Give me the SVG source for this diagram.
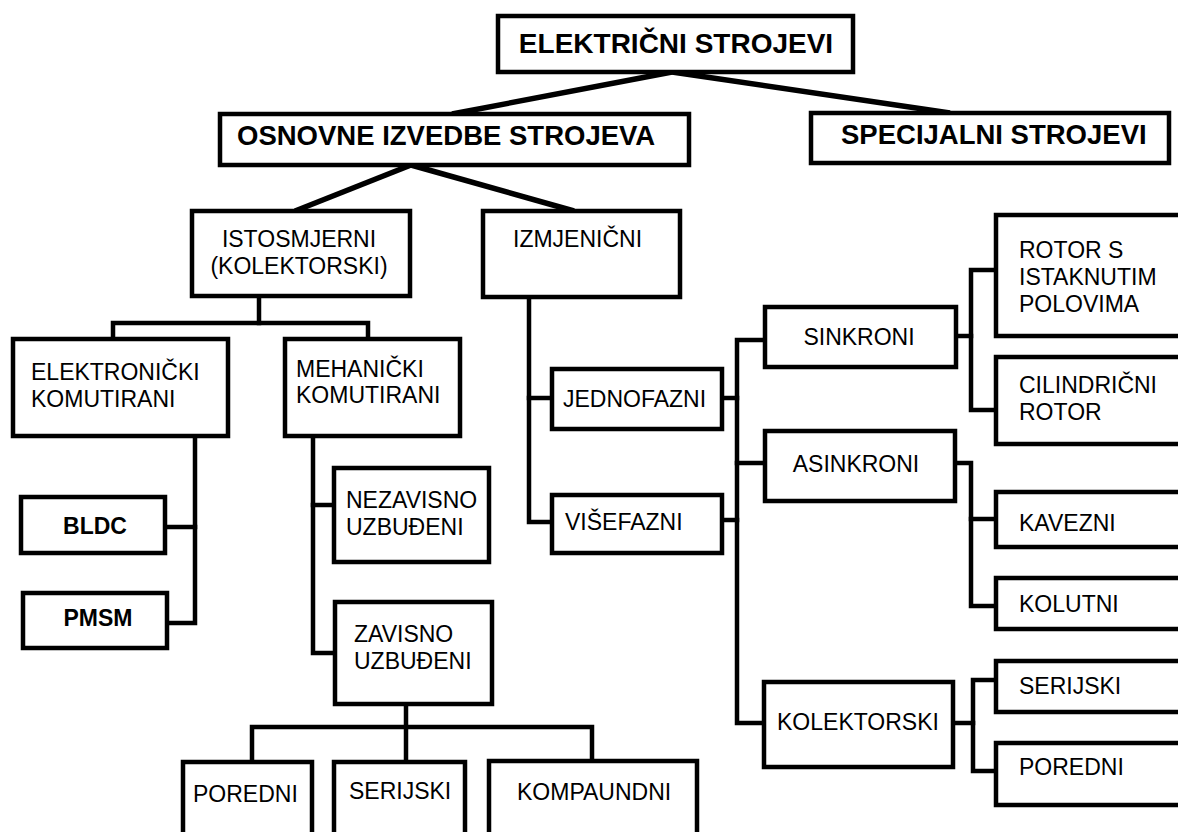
<svg xmlns="http://www.w3.org/2000/svg" width="1178" height="832" viewBox="0 0 1178 832">
<style>
.box{fill:#fff;stroke:#000;stroke-width:4.5}
.t{font-family:"Liberation Sans",Arial,sans-serif;font-size:23px;fill:#000}
.b{font-weight:bold}
.c{text-anchor:middle}
.h1{font-size:28px}
.h2{font-size:27.5px}
#connectors path{fill:none;stroke:#000;stroke-width:4.5;stroke-linecap:square}
#connectors path.d{stroke-width:5.5;stroke-linecap:butt}
</style>
<rect width="1178" height="832" fill="#fff"/>
<g id="connectors">
<path class="d" d="M672,72 L452,114"/>
<path class="d" d="M672,72 L950,113"/>
<path class="d" d="M411,165 L295,211"/>
<path class="d" d="M411,165 L574,211"/>
<path d="M259,296 V323"/>
<path d="M113,339 V323 H368 V339"/>
<path d="M195,436 V623 H167"/>
<path d="M165,527 H195"/>
<path d="M313,436 V653 H335"/>
<path d="M313,505 H334"/>
<path d="M406,704 V762"/>
<path d="M252,762 V727 H592 V761"/>
<path d="M529,297 V522 H552"/>
<path d="M529,398 H552"/>
<path d="M722,398 H737"/>
<path d="M722,520 H737"/>
<path d="M765,340 H737 V723 H764"/>
<path d="M737,463 H765"/>
<path d="M956,336 H971"/>
<path d="M996,270 H971 V410 H996"/>
<path d="M955,463 H971 V606 H996"/>
<path d="M971,519 H996"/>
<path d="M953,723 H973"/>
<path d="M996,680 H973 V771 H996"/>
</g>
<g id="elektricni-strojevi"><rect class="box" x="498" y="16" width="355" height="56"/><text class="t b c h1" x="676" y="53">ELEKTRIČNI STROJEVI</text></g>
<g id="osnovne"><rect class="box" x="220" y="114" width="469" height="51"/><text class="t b h2" x="237" y="145">OSNOVNE IZVEDBE STROJEVA</text></g>
<g id="specijalni"><rect class="box" x="811" y="113" width="358" height="50"/><text class="t b h2" x="841" y="144">SPECIJALNI STROJEVI</text></g>
<g id="istosmjerni"><rect class="box" x="192" y="211" width="218" height="85"/><text class="t c" x="299" y="247">ISTOSMJERNI</text><text class="t c" x="299" y="274">(KOLEKTORSKI)</text></g>
<g id="izmjenicni"><rect class="box" x="483" y="211" width="197" height="86"/><text class="t" x="513" y="247">IZMJENIČNI</text></g>
<g id="elektronicki"><rect class="box" x="13" y="339" width="215" height="97"/><text class="t" x="31" y="380">ELEKTRONIČKI</text><text class="t" x="31" y="407">KOMUTIRANI</text></g>
<g id="mehanicki"><rect class="box" x="285" y="339" width="175" height="97"/><text class="t" x="296" y="377">MEHANIČKI</text><text class="t" x="296" y="403">KOMUTIRANI</text></g>
<g id="bldc"><rect class="box" x="21" y="497" width="144" height="56"/><text class="t b c" x="95" y="534">BLDC</text></g>
<g id="pmsm"><rect class="box" x="23" y="593" width="144" height="55"/><text class="t b c" x="98" y="626">PMSM</text></g>
<g id="nezavisno"><rect class="box" x="334" y="468" width="155" height="94"/><text class="t" x="346" y="508">NEZAVISNO</text><text class="t" x="346" y="535">UZBUĐENI</text></g>
<g id="zavisno"><rect class="box" x="335" y="602" width="157" height="102"/><text class="t" x="354" y="642">ZAVISNO</text><text class="t" x="354" y="669">UZBUĐENI</text></g>
<g id="poredni-1"><rect class="box" x="183" y="762" width="129" height="85"/><text class="t" x="193" y="802">POREDNI</text></g>
<g id="serijski-1"><rect class="box" x="334" y="762" width="131" height="85"/><text class="t" x="349" y="799">SERIJSKI</text></g>
<g id="kompaundni"><rect class="box" x="489" y="761" width="208" height="86"/><text class="t" x="517" y="800">KOMPAUNDNI</text></g>
<g id="jednofazni"><rect class="box" x="552" y="369" width="170" height="60"/><text class="t" x="563" y="407">JEDNOFAZNI</text></g>
<g id="visefazni"><rect class="box" x="552" y="495" width="170" height="58"/><text class="t" x="565" y="530">VIŠEFAZNI</text></g>
<g id="sinkroni"><rect class="box" x="765" y="307" width="191" height="60"/><text class="t c" x="859" y="345">SINKRONI</text></g>
<g id="asinkroni"><rect class="box" x="765" y="431" width="190" height="70"/><text class="t c" x="856" y="472">ASINKRONI</text></g>
<g id="kolektorski"><rect class="box" x="764" y="682" width="189" height="85"/><text class="t c" x="858" y="730">KOLEKTORSKI</text></g>
<g id="rotor-s"><rect class="box" x="996" y="215" width="200" height="121"/><text class="t" x="1019" y="258">ROTOR S</text><text class="t" x="1019" y="285">ISTAKNUTIM</text><text class="t" x="1019" y="312">POLOVIMA</text></g>
<g id="cilindricni"><rect class="box" x="996" y="357" width="200" height="87"/><text class="t" x="1019" y="393">CILINDRIČNI</text><text class="t" x="1019" y="420">ROTOR</text></g>
<g id="kavezni"><rect class="box" x="996" y="492" width="200" height="55"/><text class="t" x="1019" y="531">KAVEZNI</text></g>
<g id="kolutni"><rect class="box" x="996" y="578" width="200" height="51"/><text class="t" x="1019" y="612">KOLUTNI</text></g>
<g id="serijski-2"><rect class="box" x="996" y="661" width="200" height="51"/><text class="t" x="1019" y="694">SERIJSKI</text></g>
<g id="poredni-2"><rect class="box" x="996" y="743" width="200" height="62"/><text class="t" x="1019" y="775">POREDNI</text></g>
</svg>
